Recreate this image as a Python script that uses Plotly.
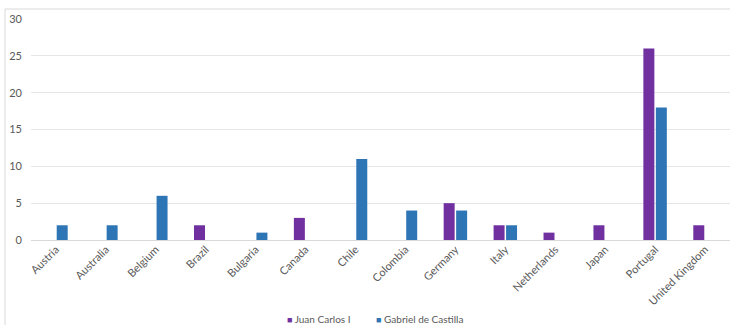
import plotly.graph_objects as go

countries = ["Austria", "Australia", "Belgium", "Brazil", "Bulgaria", "Canada", "Chile",
             "Colombia", "Germany", "Italy", "Netherlands", "Japan", "Portugal", "United Kingdom"]
juan_carlos = [0, 0, 0, 2, 0, 3, 0, 0, 5, 2, 1, 2, 26, 2]
gabriel = [2, 2, 6, 0, 1, 0, 11, 4, 4, 2, 0, 0, 18, 0]
series_names = ["Juan Carlos I", "Gabriel de Castilla"]
series_colors = ["#7030A0", "#2E75B6"]

fig = go.Figure()
for name, vals, col in zip(series_names, [juan_carlos, gabriel], series_colors):
    fig.add_trace(go.Bar(x=countries, y=vals, name=name, showlegend=False,
                         marker=dict(color=col, line=dict(width=0))))

W, H = 730, 325
ml, mr, mt, mb = 31, 0, 19, 85
pw, ph = W - ml - mr, H - mt - mb

def px(x):
    return (x - ml) / pw

def py(y):
    return (H - mb - y) / ph

legend_text = ("&nbsp;" * 10).join(
    f"<span style='color:{c}; font-size:9px'>■</span> {n}" for n, c in zip(series_names, series_colors)
)

fig.update_layout(
    width=W, height=H,
    margin=dict(l=ml, r=mr, t=mt, b=mb),
    paper_bgcolor="white", plot_bgcolor="white",
    barmode="group", bargap=0.5, bargroupgap=0.12,
    font=dict(family="Lato, Open Sans, sans-serif", size=11, color="#595959"),
    showlegend=False,
    xaxis=dict(tickangle=-45, showgrid=False, showline=False, ticks="", zeroline=False,
               automargin=False, tickfont=dict(size=11, color="#595959")),
    yaxis=dict(range=[0, 30], dtick=5, showgrid=True, gridcolor="#E6E6E6", gridwidth=1,
               zeroline=True, zerolinecolor="#D9D9D9", zerolinewidth=1,
               showline=False, ticks="", ticklabelstandoff=8, automargin=False,
               tickfont=dict(size=11, color="#595959")),
    annotations=[
        dict(text=legend_text, xref="paper", yref="paper", x=px(375), y=py(319),
             xanchor="center", yanchor="middle", showarrow=False,
             font=dict(size=10, color="#595959")),
    ],
    shapes=[
        dict(type="line", xref="paper", yref="paper", x0=px(5), x1=px(5), y0=py(9), y1=py(330),
             line=dict(color="#D9D9D9", width=1)),
        dict(type="line", xref="paper", yref="paper", x0=px(5), x1=px(735), y0=py(9), y1=py(9),
             line=dict(color="#D9D9D9", width=1)),
    ],
)

fig.write_html("out.html")
